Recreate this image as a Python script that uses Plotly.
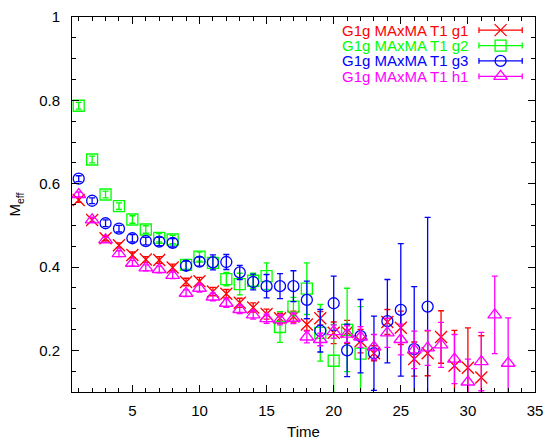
import plotly.graph_objects as go

# ---------------- data ----------------
t_g1 = list(range(1, 32))
m_g1 = [0.561, 0.513, 0.469, 0.452, 0.429, 0.418, 0.417, 0.399, 0.364, 0.366,
        0.341, 0.336, 0.314, 0.303, 0.287, 0.277, 0.281, 0.262, 0.277, 0.242,
        0.244, 0.222, 0.193, 0.268, 0.254, 0.179, 0.193, 0.232, 0.163, 0.158, 0.135]
e_g1 = [0.006, 0.006, 0.006, 0.006, 0.007, 0.007, 0.008, 0.008, 0.009, 0.009,
        0.010, 0.010, 0.011, 0.011, 0.012, 0.012, 0.013, 0.014, 0.016, 0.026,
        0.028, 0.028, 0.018, 0.030, 0.040, 0.041, 0.054, 0.063, 0.085, 0.096, 0.100]

t_g2 = list(range(1, 23))
m_g2 = [0.787, 0.658, 0.574, 0.546, 0.514, 0.490, 0.470, 0.466, 0.405, 0.425,
        0.410, 0.371, 0.359, 0.367, 0.378, 0.256, 0.305, 0.348, 0.242, 0.175,
        0.249, 0.192]
e_g2 = [0.008, 0.008, 0.008, 0.008, 0.009, 0.009, 0.010, 0.010, 0.010, 0.011,
        0.014, 0.016, 0.026, 0.018, 0.032, 0.037, 0.022, 0.062, 0.068, 0.087,
        0.100, 0.113]

t_g3 = list(range(1, 28))
m_g3 = [0.612, 0.559, 0.505, 0.492, 0.469, 0.462, 0.461, 0.458, 0.403, 0.413,
        0.411, 0.412, 0.387, 0.364, 0.354, 0.354, 0.354, 0.321, 0.247, 0.313,
        0.200, 0.234, 0.193, 0.270, 0.297, 0.203, 0.305]
e_g3 = [0.007, 0.007, 0.008, 0.008, 0.009, 0.009, 0.010, 0.010, 0.011, 0.011,
        0.018, 0.018, 0.017, 0.019, 0.028, 0.030, 0.037, 0.045, 0.051, 0.065,
        0.063, 0.088, 0.089, 0.100, 0.159, 0.150, 0.214]

t_h1 = list(range(1, 34))
m_h1 = [0.574, 0.513, 0.465, 0.432, 0.409, 0.398, 0.394, 0.380, 0.337, 0.349,
        0.328, 0.313, 0.298, 0.285, 0.276, 0.273, 0.277, 0.232, 0.226, 0.245,
        0.239, 0.232, 0.208, 0.242, 0.226, 0.201, 0.206, 0.213, 0.179, 0.124,
        0.173, 0.285, 0.169]
e_h1 = [0.006, 0.006, 0.006, 0.007, 0.007, 0.007, 0.008, 0.008, 0.008, 0.009,
        0.009, 0.010, 0.010, 0.010, 0.011, 0.012, 0.013, 0.014, 0.015, 0.016,
        0.020, 0.025, 0.030, 0.035, 0.037, 0.045, 0.042, 0.054, 0.059, 0.055,
        0.070, 0.093, 0.109]

names = ["G1g MAxMA T1 g1", "G1g MAxMA T1 g2", "G1g MAxMA T1 g3", "G1g MAxMA T1 h1"]
colors = ["#ff0000", "#00ff00", "#0000ff", "#ff00ff"]
symbols = ["x-thin-open", "square-open", "circle-open", "triangle-up-open"]
msizes = [12, 11, 11, 12]

x_ticks = [5, 10, 15, 20, 25, 30, 35]
y_ticks = [0.2, 0.4, 0.6, 0.8, 1.0]
y_ticktext = ["0.2", "0.4", "0.6", "0.8", "1"]

FONT = "Liberation Sans, Arial, Helvetica, sans-serif"
FS = 15

series = [(t_g1, m_g1, e_g1), (t_g2, m_g2, e_g2), (t_g3, m_g3, e_g3), (t_h1, m_h1, e_h1)]

fig = go.Figure()
for (t, m, e), name, col, sym, ms in zip(series, names, colors, symbols, msizes):
    fig.add_trace(go.Scatter(
        x=t, y=m, mode="markers", name=name, showlegend=False,
        marker=dict(symbol=sym, size=ms, color=col, line=dict(color=col, width=1.3)),
        error_y=dict(type="data", array=e, visible=True, color=col, thickness=1.3, width=3),
        cliponaxis=True,
    ))

# ---------------- key (gnuplot style: text left, sample right) ----------------
L, R, T, B = 72, 543, 10.7, 391.7
W, H = R - L, B - T
def px(xp):
    return (xp - L) / W
def py(yp):
    return (B - yp) / H

row_y = [24, 39.7, 55.3, 71]
shapes = []
annotations = []
for yy, name, col in zip(row_y, names, colors):
    annotations.append(dict(
        x=px(476), y=py(yy), xref="paper", yref="paper", xanchor="right", yanchor="middle",
        text=name, showarrow=False, borderpad=0,
        font=dict(family=FONT, size=FS, color=col)))
    shapes.append(dict(type="line", xref="paper", yref="paper",
                       x0=px(486), x1=px(530), y0=py(yy), y1=py(yy),
                       line=dict(color=col, width=1.3)))
    for xc in (486, 530):
        shapes.append(dict(type="line", xref="paper", yref="paper",
                           x0=px(xc), x1=px(xc), y0=py(yy - 3), y1=py(yy + 3),
                           line=dict(color=col, width=1.3)))

# key markers on an overlay axis spanning the plot area in paper units
for yy, col, sym, ms in zip(row_y, colors, symbols, msizes):
    fig.add_trace(go.Scatter(
        x=[px(508)], y=[py(yy)], xaxis="x2", yaxis="y2", mode="markers",
        showlegend=False, hoverinfo="skip",
        marker=dict(symbol=sym, size=ms, color=col, line=dict(color=col, width=1.3))))

axis_common = dict(
    showline=True, linecolor="black", linewidth=1, mirror="ticks",
    ticks="inside", ticklen=7, tickwidth=1, tickcolor="black",
    showgrid=False, zeroline=False,
    tickfont=dict(family=FONT, size=FS, color="black"),
)

fig.update_layout(
    width=551, height=447,
    margin=dict(l=72, r=8, t=11, b=55),
    paper_bgcolor="white", plot_bgcolor="white",
    font=dict(family=FONT, size=FS, color="black"),
    showlegend=False,
    xaxis=dict(range=[0.5, 35], tickvals=x_ticks, ticklabelstandoff=5,
               minor=dict(dtick=1, tick0=0, ticks="inside", ticklen=4, tickcolor="black"),
               title=dict(text="Time", font=dict(family=FONT, size=FS), standoff=8),
               **axis_common),
    yaxis=dict(range=[0.1, 1.0], tickvals=y_ticks, ticktext=y_ticktext, ticklabelstandoff=8,
               minor=dict(dtick=0.05, tick0=0, ticks="inside", ticklen=4, tickcolor="black"),
               title=dict(text="M<sub>eff</sub>", font=dict(family=FONT, size=FS), standoff=14),
               **axis_common),
    xaxis2=dict(range=[0, 1], overlaying="x", visible=False, fixedrange=True),
    yaxis2=dict(range=[0, 1], overlaying="y", visible=False, fixedrange=True),
    shapes=shapes,
    annotations=annotations,
)

fig.write_html("out.html")
